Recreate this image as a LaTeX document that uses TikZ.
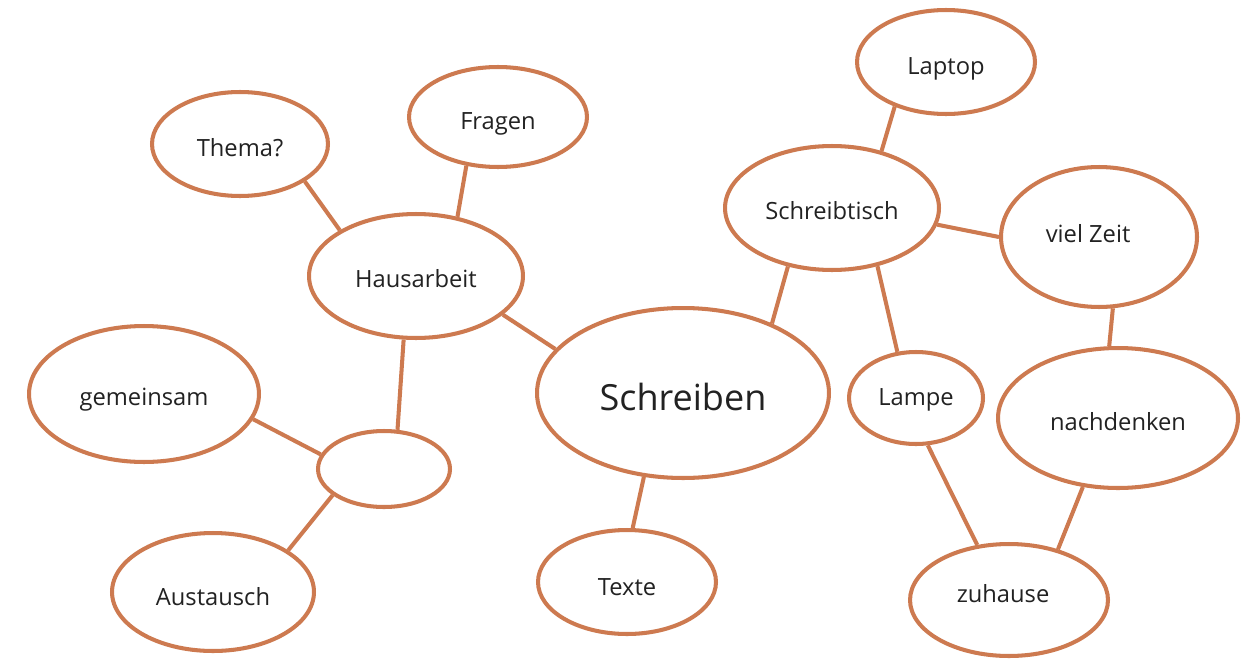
\documentclass[tikz,border=0pt]{standalone}
\usepackage{fontspec}
\setmainfont{Open Sans}
\usetikzlibrary{shapes.geometric}
\definecolor{ring}{HTML}{CD7A50}
\definecolor{ink}{HTML}{222222}
\newcommand{\lowr}[2]{\raisebox{-#1}[\height][\depth]{#2}}
\begin{document}
\begin{tikzpicture}[x=0.02cm,y=-0.02cm,
  bub/.style={ellipse,draw=ring,line width=2.3pt,fill=white,inner sep=0pt,text=ink,font=\fontsize{13.5}{15}\selectfont},
  link/.style={draw=ring,line width=2.3pt}]
\useasboundingbox (0,0) rectangle (1250,659);
\node[bub,minimum width=3.52cm,minimum height=2.08cm] (thema) at (240,144) {\lowr{2.3pt}{Thema?}};
\node[bub,minimum width=3.56cm,minimum height=2.00cm] (fragen) at (498,117) {\lowr{4pt}{Fragen}};
\node[bub,minimum width=4.28cm,minimum height=2.48cm] (haus) at (416,276) {\lowr{1.7pt}{Hausarbeit}};
\node[bub,minimum width=4.60cm,minimum height=2.72cm] (gem) at (144,394) {\lowr{3.4pt}{gemeinsam}};
\node[bub,minimum width=2.64cm,minimum height=1.52cm] (leer) at (384,469) {};
\node[bub,minimum width=4.04cm,minimum height=2.36cm] (aus) at (213,592) {\lowr{2.8pt}{Austausch}};
\node[bub,minimum width=5.84cm,minimum height=3.40cm,font=\fontsize{20.5}{23}\selectfont] (schreiben) at (683,393) {\lowr{2.3pt}{Schreiben}};
\node[bub,minimum width=3.56cm,minimum height=2.08cm] (texte) at (627,582) {\lowr{2.8pt}{Texte}};
\node[bub,minimum width=4.28cm,minimum height=2.48cm] (tisch) at (832,208) {\lowr{1.7pt}{Schreibtisch}};
\node[bub,minimum width=3.56cm,minimum height=2.08cm] (laptop) at (946,62) {\lowr{4pt}{Laptop}};
\node[bub,minimum width=3.92cm,minimum height=2.80cm] (zeit) at (1099,237) {\lowr{-1.7pt}{viel Zeit}\hspace*{12.4pt}};
\node[bub,minimum width=2.68cm,minimum height=1.84cm] (lampe) at (916,398) {\lowr{1pt}{Lampe}};
\node[bub,minimum width=4.80cm,minimum height=2.80cm] (nach) at (1118,418) {\lowr{2.3pt}{nachdenken}};
\node[bub,minimum width=3.96cm,minimum height=2.24cm] (zu) at (1009,600) {\lowr{-3.4pt}{zuhause}\hspace*{6.8pt}};
\path[link] (thema.-30.7) -- (haus.149.6);
\path[link] (fragen.-123.4) -- (haus.55.9);
\path[link] (haus.-24.9) -- (schreiben.161.4);
\path[link] (haus.-101.8) -- (leer.71.1);
\path[link] (gem.-13) -- (leer.167.5);
\path[link] (leer.-153.4) -- (aus.29);
\path[link] (schreiben.-115.2) -- (texte.84.4);
\path[link] (schreiben.38.5) -- (tisch.-127.8);
\path[link] (tisch.49.4) -- (laptop.-139.2);
\path[link] (tisch.-9.2) -- (zeit.180);
\path[link] (tisch.-52.5) -- (lampe.112.9);
\path[link] (zeit.-79.5) -- (nach.97.5);
\path[link] (lampe.-76) -- (zu.120.6);
\path[link] (nach.-117.6) -- (zu.46.2);
\end{tikzpicture}
\end{document}
